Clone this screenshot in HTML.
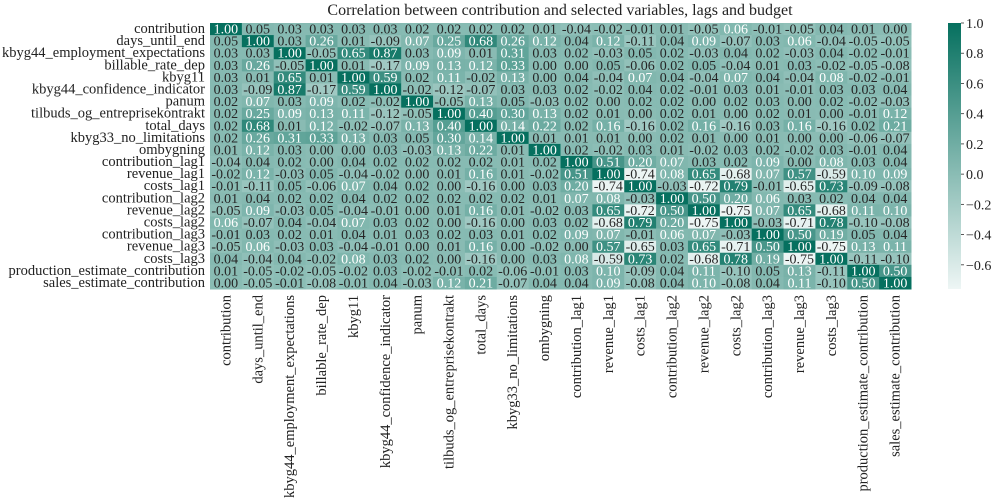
<!DOCTYPE html>
<html><head><meta charset="utf-8"><style>
body{margin:0;background:#fff;}
svg{display:block;font-family:"Liberation Serif",serif;}
</style></head><body>
<svg id="chart" width="1000" height="500" xmlns="http://www.w3.org/2000/svg">
<defs><linearGradient id="cbg" x1="0" y1="1" x2="0" y2="0"><stop offset="0" stop-color="#eef6f5"/><stop offset="1" stop-color="#06705f"/></linearGradient></defs>
<text x="560" y="15" font-size="16" text-anchor="middle" fill="#222">Correlation between contribution and selected variables, lags and budget</text>
<g id="cells"></g>
<g id="ylabels"></g>
<g id="xlabels"></g>
<rect x="948" y="23" width="13" height="266" fill="url(#cbg)"/>
<g id="cbticks"></g>
</svg>
<script>
const labels=["contribution","days_until_end","kbyg44_employment_expectations","billable_rate_dep","kbyg11","kbyg44_confidence_indicator","panum","tilbuds_og_entreprisekontrakt","total_days","kbyg33_no_limitations","ombygning","contribution_lag1","revenue_lag1","costs_lag1","contribution_lag2","revenue_lag2","costs_lag2","contribution_lag3","revenue_lag3","costs_lag3","production_estimate_contribution","sales_estimate_contribution"];
const values=[
[1.00,0.05,0.03,0.03,0.03,0.03,0.02,0.02,0.02,0.02,0.01,-0.04,-0.02,-0.01,0.01,-0.05,0.06,-0.01,-0.05,0.04,0.01,0.00],
[0.05,1.00,0.03,0.26,0.01,-0.09,0.07,0.25,0.68,0.26,0.12,0.04,0.12,-0.11,0.04,0.09,-0.07,0.03,0.06,-0.04,-0.05,-0.05],
[0.03,0.03,1.00,-0.05,0.65,0.87,0.03,0.09,0.01,0.31,0.03,0.02,-0.03,0.05,0.02,-0.03,0.04,0.02,-0.03,0.04,-0.02,-0.01],
[0.03,0.26,-0.05,1.00,0.01,-0.17,0.09,0.13,0.12,0.33,0.00,0.00,0.05,-0.06,0.02,0.05,-0.04,0.01,0.03,-0.02,-0.05,-0.08],
[0.03,0.01,0.65,0.01,1.00,0.59,0.02,0.11,-0.02,0.13,-0.00,0.04,-0.04,0.07,0.04,-0.04,0.07,0.04,-0.04,0.08,-0.02,-0.01],
[0.03,-0.09,0.87,-0.17,0.59,1.00,-0.02,-0.12,-0.07,0.03,0.03,0.02,-0.02,0.04,0.02,-0.01,0.03,0.01,-0.01,0.03,0.03,0.04],
[0.02,0.07,0.03,0.09,0.02,-0.02,1.00,-0.05,0.13,0.05,-0.03,0.02,0.00,0.02,0.02,0.00,0.02,0.03,0.00,0.02,-0.02,-0.03],
[0.02,0.25,0.09,0.13,0.11,-0.12,-0.05,1.00,0.40,0.30,0.13,0.02,0.01,0.00,0.02,0.01,0.00,0.02,0.01,0.00,-0.01,0.12],
[0.02,0.68,0.01,0.12,-0.02,-0.07,0.13,0.40,1.00,0.14,0.22,0.02,0.16,-0.16,0.02,0.16,-0.16,0.03,0.16,-0.16,0.02,0.21],
[0.02,0.26,0.31,0.33,0.13,0.03,0.05,0.30,0.14,1.00,0.01,0.01,0.01,0.00,0.02,0.01,0.00,0.01,0.00,0.00,-0.06,-0.07],
[0.01,0.12,0.03,0.00,-0.00,0.03,-0.03,0.13,0.22,0.01,1.00,0.02,-0.02,0.03,0.01,-0.02,0.03,0.02,-0.02,0.03,-0.01,0.04],
[-0.04,0.04,0.02,0.00,0.04,0.02,0.02,0.02,0.02,0.01,0.02,1.00,0.51,0.20,0.07,0.03,0.02,0.09,-0.00,0.08,0.03,0.04],
[-0.02,0.12,-0.03,0.05,-0.04,-0.02,0.00,0.01,0.16,0.01,-0.02,0.51,1.00,-0.74,0.08,0.65,-0.68,0.07,0.57,-0.59,0.10,0.09],
[-0.01,-0.11,0.05,-0.06,0.07,0.04,0.02,0.00,-0.16,0.00,0.03,0.20,-0.74,1.00,-0.03,-0.72,0.79,-0.01,-0.65,0.73,-0.09,-0.08],
[0.01,0.04,0.02,0.02,0.04,0.02,0.02,0.02,0.02,0.02,0.01,0.07,0.08,-0.03,1.00,0.50,0.20,0.06,0.03,0.02,0.04,0.04],
[-0.05,0.09,-0.03,0.05,-0.04,-0.01,0.00,0.01,0.16,0.01,-0.02,0.03,0.65,-0.72,0.50,1.00,-0.75,0.07,0.65,-0.68,0.11,0.10],
[0.06,-0.07,0.04,-0.04,0.07,0.03,0.02,0.00,-0.16,0.00,0.03,0.02,-0.68,0.79,0.20,-0.75,1.00,-0.03,-0.71,0.78,-0.10,-0.08],
[-0.01,0.03,0.02,0.01,0.04,0.01,0.03,0.02,0.03,0.01,0.02,0.09,0.07,-0.01,0.06,0.07,-0.03,1.00,0.50,0.19,0.05,0.04],
[-0.05,0.06,-0.03,0.03,-0.04,-0.01,0.00,0.01,0.16,0.00,-0.02,-0.00,0.57,-0.65,0.03,0.65,-0.71,0.50,1.00,-0.75,0.13,0.11],
[0.04,-0.04,0.04,-0.02,0.08,0.03,0.02,0.00,-0.16,0.00,0.03,0.08,-0.59,0.73,0.02,-0.68,0.78,0.19,-0.75,1.00,-0.11,-0.10],
[0.01,-0.05,-0.02,-0.05,-0.02,0.03,-0.02,-0.01,0.02,-0.06,-0.01,0.03,0.10,-0.09,0.04,0.11,-0.10,0.05,0.13,-0.11,1.00,0.50],
[0.00,-0.05,-0.01,-0.08,-0.01,0.04,-0.03,0.12,0.21,-0.07,0.04,0.04,0.09,-0.08,0.04,0.10,-0.08,0.04,0.11,-0.10,0.50,1.00]];
const cbTicks=[1.0,0.8,0.6,0.4,0.2,0.0,-0.2,-0.4,-0.6];
const vmin=-0.76,vmax=1.0;
const X0=210,X1=911,Y0=23,Y1=289;
const n=labels.length,cw=(X1-X0)/n,ch=(Y1-Y0)/n;
const xs=i=>X0+i*cw, ys=j=>Y0+j*ch;
const lo=[238,246,245],hi=[6,112,95];
function color(v){let t=Math.max(0,Math.min(1,(v-vmin)/(vmax-vmin)));return 'rgb('+lo.map((a,k)=>Math.round(a+(hi[k]-a)*t)).join(',')+')';}
const NS='http://www.w3.org/2000/svg';
function mk(tag,attrs,parent){const e=document.createElementNS(NS,tag);for(const k in attrs)e.setAttribute(k,attrs[k]);parent.appendChild(e);return e;}
const cells=document.getElementById('cells');
values.forEach((row,j)=>row.forEach((v,i)=>{
 const r=mk('rect',{x:xs(i),y:ys(j),width:cw+0.5,height:ch+0.5,fill:color(v)},cells);
 
 
 const t=mk('text',{x:xs(i)+cw/2,y:ys(j)+ch/2+4.5,'font-size':14,'text-anchor':'middle',fill:v>0.055?'#fff':'#262626'},cells);
 
 
 t.textContent=v.toFixed(2);
}));
const yl=document.getElementById('ylabels');
labels.forEach((l,j)=>{
 const t=mk('text',{x:205,y:ys(j)+ch/2+4,'font-size':14.5,'text-anchor':'end',fill:'#222'},yl);
 
 
 t.textContent=l;
});
const xl=document.getElementById('xlabels');
labels.forEach((l,i)=>{
 const cx=xs(i)+cw/2+4.5;
 const t=mk('text',{x:cx,y:295,'font-size':14.5,'text-anchor':'end',fill:'#222',transform:'rotate(-90 '+cx+' 295)'},xl);
 
 
 t.textContent=l;
});
const cb=document.getElementById('cbticks');
const cy=v=>Y0+(vmax-v)/(vmax-vmin)*(Y1-Y0);
cbTicks.forEach(v=>{
 const y=cy(v);
 const l=mk('line',{x1:961,x2:964,y1:y,y2:y,stroke:'#333','stroke-width':0.8},cb);
 
 
 const t=mk('text',{x:966,y:y+5,'font-size':14,fill:'#222'},cb);
 
 
 t.textContent=(v<0?'\u2212':'')+Math.abs(v).toFixed(1);
});
</script>
</body></html>
